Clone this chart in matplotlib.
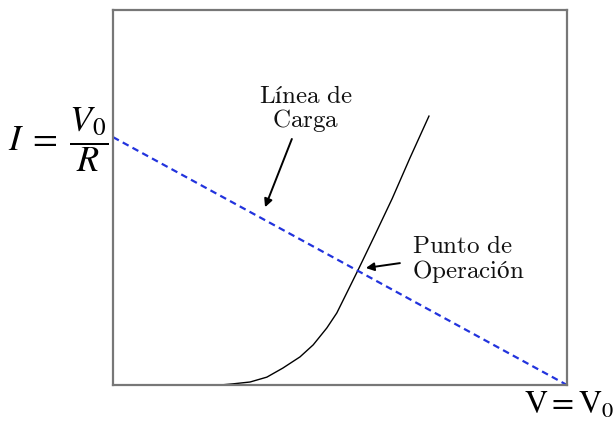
import numpy as np
import matplotlib
matplotlib.use("Agg")
import matplotlib.pyplot as plt

## Curva del diodo (V normalizado a V0, I normalizado a la altura del eje)
diodeV = [0.0, 0.236, 0.264, 0.302, 0.339, 0.374, 0.412, 0.441, 0.471, 0.493, 0.518, 0.540,
          0.577, 0.615, 0.654, 0.696]
diodeI = [0.0, 0.0, 0.003, 0.008, 0.021, 0.045, 0.075, 0.107, 0.152, 0.192, 0.253, 0.307,
          0.400, 0.497, 0.605, 0.717]

## Linea de carga: de (0, V0/R) a (V0, 0)
loadV = [0.0, 1.0]
loadI = [0.661, 0.0]

opPoint = (0.557, 0.312)
loadArrowTip = (0.335, 0.474)
loadArrowTail = (0.394, 0.656)
opArrowTail = (0.632, 0.325)

fig = plt.figure(figsize=(6.15, 4.34), dpi=100)
ax = fig.add_axes([0.1837, 0.1129, 0.7382, 0.8641])

ax.plot(diodeV, diodeI, color="black", linewidth=1.0)
ax.plot(loadV, loadI, color="#2233dd", linewidth=1.6, linestyle=(0, (3, 2)))

ax.set_xlim(0, 1)
ax.set_ylim(0, 1)
ax.set_xticks([])
ax.set_yticks([])
for Border in ["top", "bottom", "left", "right"]:
    ax.spines[Border].set_linewidth(1.6)
    ax.spines[Border].set_color("#777777")

arrowStyle = dict(arrowstyle="-|>", color="black", linewidth=1.4, mutation_scale=12, shrinkA=0, shrinkB=0)

ax.annotate("", xy=loadArrowTip, xytext=loadArrowTail, arrowprops=arrowStyle)
ax.annotate("", xy=opPoint, xytext=opArrowTail, arrowprops=arrowStyle)

labelKw = dict(fontsize=18, math_fontfamily="cm", color="#111111")
ax.text(0.425, 0.770, r"$\mathrm{Línea\ de}$", ha="center", va="center", **labelKw)
ax.text(0.425, 0.705, r"$\mathrm{Carga}$", ha="center", va="center", **labelKw)
ax.text(0.659, 0.370, r"$\mathrm{Punto\ de}$", ha="left", va="center", **labelKw)
ax.text(0.659, 0.302, r"$\mathrm{Operación}$", ha="left", va="center", **labelKw)

fig.text(108 / 615, (434 - 140) / 434, r"$I\;=\;\dfrac{V_0}{R}$", ha="right", va="center",
         fontsize=26, math_fontfamily="stix")
fig.text(1.0, (434 - 405) / 434, r"$\mathrm{V{=}V_0}$", ha="right", va="center",
         fontsize=23, math_fontfamily="stix")

fig.savefig("out.png", dpi=100)
